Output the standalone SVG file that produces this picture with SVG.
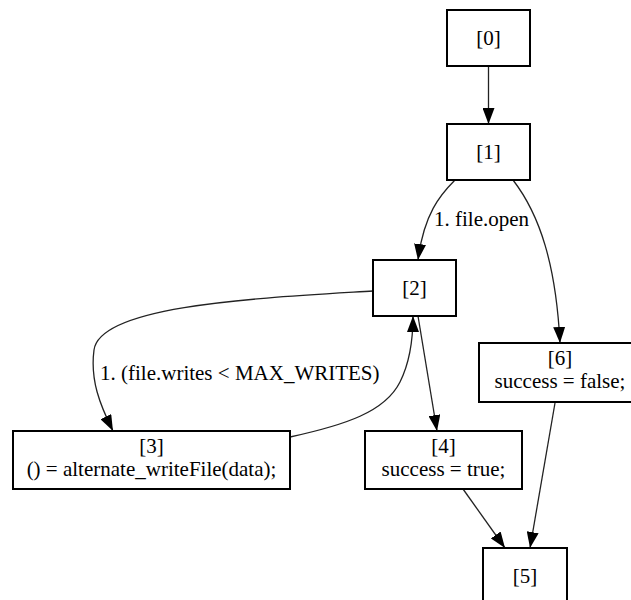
<svg xmlns="http://www.w3.org/2000/svg" width="631" height="600" viewBox="0 0 631 600">
<defs>
<style>
.box{fill:#fff;stroke:#000;stroke-width:2}
text{font-family:'Liberation Serif','Times New Roman','DejaVu Serif',serif;font-size:21px;fill:#000}
.t{text-anchor:middle}
.e{fill:none;stroke:#222;stroke-width:1.3}
</style>
<marker id="ah" markerUnits="userSpaceOnUse" markerWidth="16" markerHeight="12" refX="16" refY="6" orient="auto">
<path d="M0,0 L16,6 L0,12 z" fill="#000"/>
</marker>
</defs>
<rect width="631" height="600" fill="#fff"/>
<g id="edges" font-family="Liberation Serif, serif">
<path class="e" marker-end="url(#ah)" d="M488.5,66 L488.5,124"/>
<path class="e" marker-end="url(#ah)" d="M455,180 C440,195 424,214 418,260"/>
<path class="e" marker-end="url(#ah)" d="M513,180 C540,215 556,265 560,343"/>
<path class="e" marker-end="url(#ah)" d="M373,291 C260,298 100,305 94,350 C90,380 100,405 113,431"/>
<path class="e" marker-end="url(#ah)" d="M290,437 C345,425 385,412 400,382 C410,362 413,340 413,316"/>
<path class="e" marker-end="url(#ah)" d="M418,316 L437,431"/>
<path class="e" marker-end="url(#ah)" d="M463,489 L505,548"/>
<path class="e" marker-end="url(#ah)" d="M555,403 L530,548"/>
<text x="434" y="226">1. file.open</text>
<text x="100" y="380">1. (file.writes &lt; MAX_WRITES)</text>
</g>
<g id="n0"><rect class="box" x="447" y="10" width="83" height="56"/><text class="t" x="488.5" y="45">[0]</text></g>
<g id="n1"><rect class="box" x="447" y="124" width="83" height="56"/><text class="t" x="488.5" y="159">[1]</text></g>
<g id="n2"><rect class="box" x="373" y="260" width="83" height="56"/><text class="t" x="414.5" y="295">[2]</text></g>
<g id="n3"><rect class="box" x="13" y="431" width="277" height="58"/><text class="t" x="151.5" y="453">[3]</text><text class="t" x="151.5" y="476">() = alternate_writeFile(data);</text></g>
<g id="n4"><rect class="box" x="365" y="431" width="157" height="58"/><text class="t" x="443.5" y="453">[4]</text><text class="t" x="443.5" y="476">success = true;</text></g>
<g id="n6"><rect class="box" x="479" y="343" width="162" height="59"/><text class="t" x="560" y="365">[6]</text><text class="t" x="560" y="388">success = false;</text></g>
<g id="n5"><rect class="box" x="483" y="548" width="84" height="56"/><text class="t" x="525" y="583">[5]</text></g>
</svg>
